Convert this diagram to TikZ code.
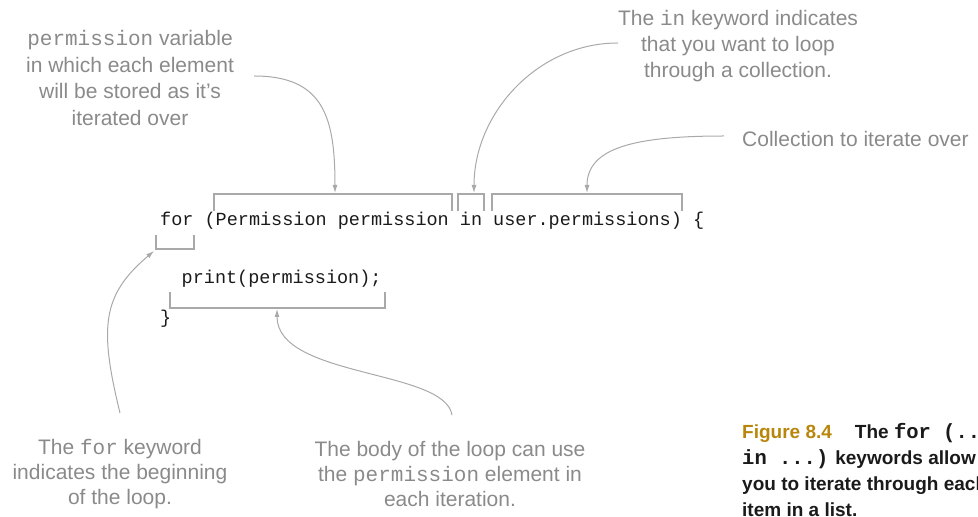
\documentclass[tikz,border=0pt]{standalone}
\usepackage{fontspec}
\setmainfont{Liberation Sans}
\setsansfont{Liberation Sans}
\setmonofont{Liberation Mono}
\usepackage{xcolor}
\definecolor{noteColor}{HTML}{8A8A8A}
\definecolor{lineColor}{HTML}{A9A9A9}
\definecolor{codeColor}{HTML}{1A1A1A}
\definecolor{figColor}{HTML}{B8860B}
\usepackage{tikz}
\usetikzlibrary{arrows.meta}

\begin{document}
\begin{tikzpicture}[x=1pt, y=1pt, >={Latex[length=8pt,width=5pt]},
        codeText/.style={font=\fontsize{18.5}{22}\ttfamily, text=codeColor, inner sep=0pt, anchor=base west},
        noteText/.style={font=\fontsize{21}{26}\selectfont, text=noteColor, align=center, inner sep=0pt},
        bracketLine/.style={lineColor, line width=1.2pt},
        noteArrow/.style={->, lineColor, line width=1pt}]
        \useasboundingbox (0,0) rectangle (978,517);

        % Code
        \node[codeText] (forLine) at (160,291) {for (Permission permission in user.permissions) \{};
        \node[codeText] (bodyLine) at (181.5,233) {print(permission);};
        \node[codeText] (closeLine) at (160,193) {\}};

        % Brackets
        \draw[bracketLine] (214,306) -- (214,323) -- (452,323) -- (452,306);
        \draw[bracketLine] (458,306) -- (458,323) -- (484,323) -- (484,306);
        \draw[bracketLine] (492,306) -- (492,323) -- (682,323) -- (682,306);
        \draw[bracketLine] (156,282) -- (156,268) -- (194,268) -- (194,282);
        \draw[bracketLine] (170,225) -- (170,209) -- (385,209) -- (385,225);

        % Arrow tips
        \coordinate (varTip) at (335,324);
        \coordinate (inTip) at (474,324);
        \coordinate (collTip) at (587,324);
        \coordinate (forTip) at (154,266);
        \coordinate (bodyTip) at (277,208);

        % Notes
        \node[noteText, font=\fontsize{21}{26.7}\selectfont] (varNote) at (130,439) {\texttt{permission} variable\\in which each element\\will be stored as it's\\iterated over};
        \node[noteText] (inNote) at (738,471) {The \texttt{in} keyword indicates\\that you want to loop\\through a collection.};
        \node[noteText, anchor=west] (collNote) at (742,378.5) {Collection to iterate over};
        \node[noteText, font=\fontsize{21}{25}\selectfont] (forNote) at (120,43) {The \texttt{for} keyword\\indicates the beginning\\of the loop.};
        \node[noteText, font=\fontsize{21}{25}\selectfont] (bodyNote) at (450,43) {The body of the loop can use\\the \texttt{permission} element in\\each iteration.};

        % Arrows
        \draw[noteArrow] ([xshift=20pt,yshift=2pt]varNote.east) .. controls +(70,0) and +(0,75) .. (varTip);
        \draw[noteArrow] ([yshift=3pt]inNote.west) .. controls +(-80,0) and +(0,80) .. (inTip);
        \draw[noteArrow] ([xshift=-18pt,yshift=2.5pt]collNote.west) .. controls +(-90,0) and +(0,45) .. (collTip);
        \draw[noteArrow] ([yshift=26pt]forNote.north) .. controls +(-21,86) and +(-52,-44) .. (forTip);
        \draw[noteArrow] ([xshift=2pt,yshift=26pt]bodyNote.north) .. controls +(-7,46) and +(0,-69) .. (bodyTip);

        % Caption
        \node[anchor=west, align=left, inner sep=0pt, text=codeColor, font=\fontsize{19}{25.7}\bfseries] (caption) at (742,47) {\textcolor{figColor}{Figure 8.4}\hspace{23pt}The {\fontsize{20.5}{25.7}\selectfont\ttfamily for (...}\\{\fontsize{20.5}{25.7}\selectfont\ttfamily in ...)} keywords allow\\you to iterate through each\\item in a list.};
    \end{tikzpicture}
\end{document}
